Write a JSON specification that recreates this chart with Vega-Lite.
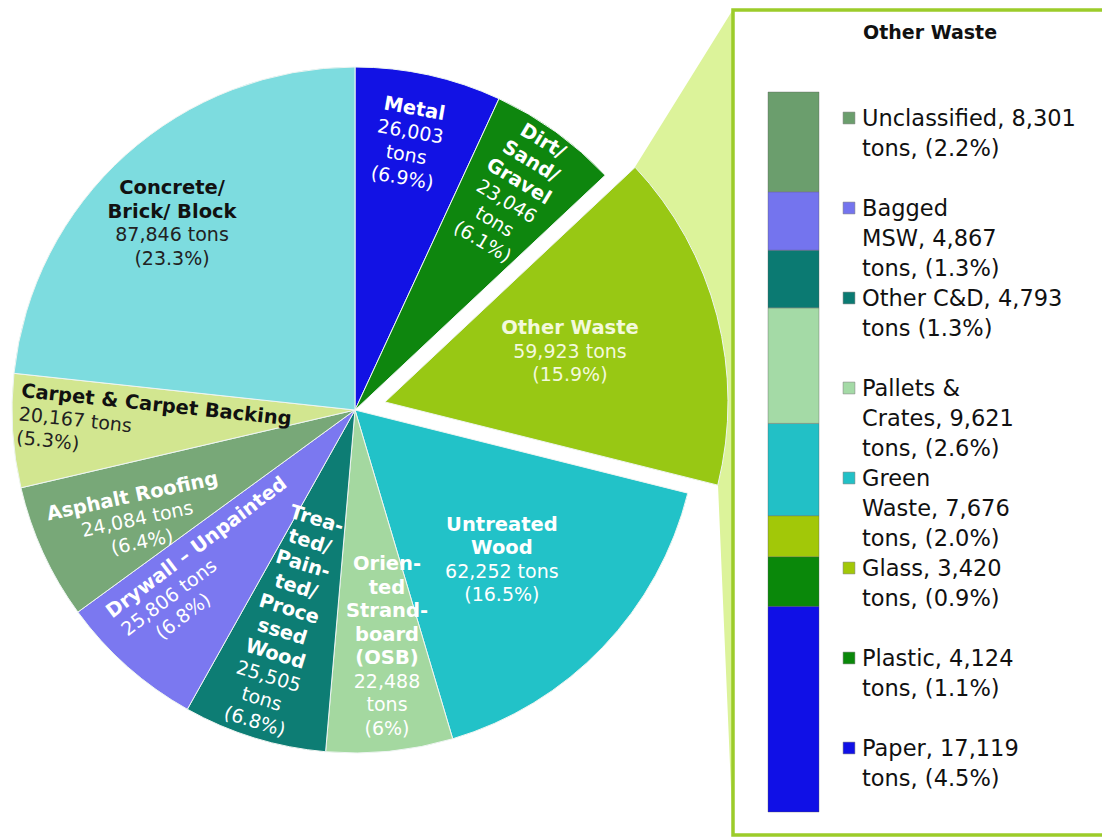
{
  "$schema": "https://vega.github.io/schema/vega-lite/v6.json",
  "padding": {"left": 0, "top": 8, "right": 0, "bottom": 0},
  "background": "white",
  "bounds": "flush",
  "spacing": 23,
  "datasets": {
    "pie": [
      {"category": "Metal", "rank": 1, "tons": 26003, "name": "Metal", "value": "26,003\ntons\n(6.9%)"},
      {"category": "Dirt/Sand/Gravel", "rank": 2, "tons": 23046, "name": "Dirt/\nSand/\nGravel", "value": "23,046\ntons\n(6.1%)"},
      {"category": "Other Waste", "rank": 3, "tons": 59923, "name": "Other Waste", "value": "59,923 tons\n(15.9%)"},
      {"category": "Untreated Wood", "rank": 4, "tons": 62252, "name": "Untreated\nWood", "value": "62,252 tons\n(16.5%)"},
      {"category": "Oriented Strandboard (OSB)", "rank": 5, "tons": 22488, "name": "Orien-\nted\nStrand-\nboard\n(OSB)", "value": "22,488\ntons\n(6%)"},
      {"category": "Treated/Painted/Processed Wood", "rank": 6, "tons": 25505, "name": "Trea-\nted/\nPain-\nted/\nProce\nssed\nWood", "value": "25,505\ntons\n(6.8%)"},
      {"category": "Drywall – Unpainted", "rank": 7, "tons": 25806, "name": "Drywall – Unpainted", "value": "25,806 tons\n(6.8%)"},
      {"category": "Asphalt Roofing", "rank": 8, "tons": 24084, "name": "Asphalt Roofing", "value": "24,084 tons\n(6.4%)"},
      {"category": "Carpet & Carpet Backing", "rank": 9, "tons": 20167, "name": "Carpet & Carpet Backing", "value": "20,167 tons\n(5.3%)"},
      {"category": "Concrete/Brick/Block", "rank": 10, "tons": 87846, "name": "Concrete/\nBrick/ Block", "value": "87,846 tons\n(23.3%)"}
    ],
    "other": [
      {"category": "Paper", "rank": 1, "tons": 17119, "group": "Other Waste", "label": "Paper, 17,119\ntons, (4.5%)"},
      {"category": "Plastic", "rank": 2, "tons": 4124, "group": "Other Waste", "label": "Plastic, 4,124\ntons, (1.1%)"},
      {"category": "Glass", "rank": 3, "tons": 3420, "group": "Other Waste", "label": "Glass, 3,420\ntons, (0.9%)"},
      {"category": "Green Waste", "rank": 4, "tons": 7676, "group": "Other Waste", "label": "Green\nWaste, 7,676\ntons, (2.0%)"},
      {"category": "Pallets & Crates", "rank": 5, "tons": 9621, "group": "Other Waste", "label": "Pallets &\nCrates, 9,621\ntons, (2.6%)"},
      {"category": "Other C&D", "rank": 6, "tons": 4793, "group": "Other Waste", "label": "Other C&D, 4,793\ntons (1.3%)"},
      {"category": "Bagged MSW", "rank": 7, "tons": 4867, "group": "Other Waste", "label": "Bagged\nMSW, 4,867\ntons, (1.3%)"},
      {"category": "Unclassified", "rank": 8, "tons": 8301, "group": "Other Waste", "label": "Unclassified, 8,301\ntons, (2.2%)"}
    ]
  },
  "hconcat": [
    {
      "width": 710,
      "height": 800,
      "data": {"name": "pie"},
      "layer": [
        {
          "data": {"values": [{"part": "connector"}]},
          "mark": {"type": "point", "shape": "M0.56,-0.486L0.756,-0.801L0.756,0.85L0.726,0.15Z", "size": 1000000, "filled": true, "fill": "#dcf39a", "opacity": 1, "strokeWidth": 0},
          "encoding": {}
        },
        {
          "mark": {
            "type": "arc",
            "outerRadius": 343,
            "stroke": "#eef5f2",
            "strokeWidth": 1,
            "xOffset": {"expr": "datum.rank === 3 ? 30 : 0"},
            "yOffset": {"expr": "datum.rank === 3 ? -8 : 0"}
          },
          "encoding": {
            "theta": {"field": "tons", "type": "quantitative", "stack": true},
            "order": {"field": "rank", "type": "quantitative"},
            "color": {
              "field": "category",
              "type": "nominal",
              "scale": {
                "domain": ["Metal", "Dirt/Sand/Gravel", "Other Waste", "Untreated Wood", "Oriented Strandboard (OSB)", "Treated/Painted/Processed Wood", "Drywall – Unpainted", "Asphalt Roofing", "Carpet & Carpet Backing", "Concrete/Brick/Block"],
                "range": ["#1212e4", "#0e860e", "#98c814", "#22c2c8", "#a4d8a0", "#0d7d74", "#7b78f0", "#78a878", "#d2e690", "#7ddcdf"]
              },
              "legend": null
            }
          }
        },
        {
          "mark": {
            "type": "text",
            "font": "DejaVu Sans",
            "fontWeight": "bold",
            "fontSize": 19.5,
            "lineBreak": "\n",
            "lineHeight": 23.5,
            "baseline": "bottom",
            "dy": {"expr": "-2 - 23.5 * (length(split(datum.name, '\\n')) - 1)"},
            "radius": {"expr": "[0,295,269,195,210,262,269,211,241,335,261][datum.rank]"},
            "thetaOffset": {"expr": "[0,-0.021,0,-0.068,0.033,-0.021,0.016,0.073,0.010,0.082,-0.045][datum.rank]"},
            "angle": {"expr": "[0,10,31,0,0,0,17,-37,-12,6,0][datum.rank]"},
            "align": {"expr": "datum.rank === 9 ? 'left' : 'center'"},
            "xOffset": {"expr": "datum.rank === 3 ? 30 : 0"},
            "yOffset": {"expr": "datum.rank === 3 ? -8 : 0"},
            "fill": {"expr": "datum.rank >= 9 ? '#111111' : (datum.rank === 3 ? '#f3f9dc' : '#ffffff')"}
          },
          "encoding": {
            "theta": {"field": "tons", "type": "quantitative", "stack": true},
            "order": {"field": "rank", "type": "quantitative"},
            "detail": {"field": "category", "type": "nominal"},
            "text": {"field": "name", "type": "nominal"}
          }
        },
        {
          "mark": {
            "type": "text",
            "font": "DejaVu Sans",
            "fontSize": 19,
            "lineBreak": "\n",
            "lineHeight": 23.5,
            "baseline": "top",
            "dy": 2.5,
            "dx": {"expr": "datum.rank === 7 ? -52 : 0"},
            "radius": {"expr": "[0,295,269,195,210,262,269,211,241,335,261][datum.rank]"},
            "thetaOffset": {"expr": "[0,-0.021,0,-0.068,0.033,-0.021,0.016,0.073,0.010,0.082,-0.045][datum.rank]"},
            "angle": {"expr": "[0,10,31,0,0,0,17,-37,-12,6,0][datum.rank]"},
            "align": {"expr": "datum.rank === 9 ? 'left' : 'center'"},
            "xOffset": {"expr": "datum.rank === 3 ? 30 : 0"},
            "yOffset": {"expr": "datum.rank === 3 ? -8 : 0"},
            "fill": {"expr": "datum.rank >= 9 ? '#222222' : (datum.rank === 3 ? '#f3f9dc' : '#ffffff')"}
          },
          "encoding": {
            "theta": {"field": "tons", "type": "quantitative", "stack": true},
            "order": {"field": "rank", "type": "quantitative"},
            "detail": {"field": "category", "type": "nominal"},
            "text": {"field": "value", "type": "nominal"}
          }
        }
      ]
    },
    {
      "width": 394,
      "height": 825,
      "view": {"stroke": "#9ccc2a", "strokeWidth": 3.5, "fill": "white"},
      "title": {"text": "Other Waste", "offset": -33, "anchor": "middle", "frame": "group", "font": "DejaVu Sans", "fontSize": 19, "fontWeight": "bold", "color": "#111111"},
      "data": {"name": "other"},
      "resolve": {"scale": {"y": "independent"}},
      "layer": [
        {
          "mark": {"type": "bar", "stroke": "#555555", "strokeWidth": 0.6, "strokeOpacity": 0.6},
          "encoding": {
            "x": {"field": "group", "type": "nominal", "scale": {"range": [35, 86], "paddingInner": 0, "paddingOuter": 0}, "axis": null},
            "y": {"field": "tons", "type": "quantitative", "stack": "zero", "scale": {"range": [802, 82], "nice": false, "zero": true}, "axis": null},
            "order": {"field": "rank", "type": "quantitative"},
            "color": {
              "field": "category",
              "type": "nominal",
              "scale": {
                "domain": ["Paper", "Plastic", "Glass", "Green Waste", "Pallets & Crates", "Other C&D", "Bagged MSW", "Unclassified"],
                "range": ["#1010e6", "#0a880a", "#a2c808", "#22c0c6", "#a4daa6", "#0b7a72", "#7474ee", "#6b9e6d"]
              },
              "legend": null
            }
          }
        },
        {
          "mark": {"type": "point", "shape": "square", "size": 140, "filled": true, "opacity": 1, "stroke": "#777777", "strokeWidth": 0.5, "xOffset": 30},
          "encoding": {
            "x": {"field": "group", "type": "nominal", "bandPosition": 1, "axis": null},
            "y": {"field": "category", "type": "nominal", "sort": ["Unclassified", "Bagged MSW", "Other C&D", "Pallets & Crates", "Green Waste", "Glass", "Plastic", "Paper"], "scale": {"type": "point", "range": [108, 738], "padding": 0}, "axis": null},
            "color": {"field": "category", "type": "nominal", "legend": null}
          }
        },
        {
          "mark": {"type": "text", "align": "left", "baseline": "alphabetic", "dy": 8, "font": "DejaVu Sans", "fontSize": 22.5, "lineBreak": "\n", "lineHeight": 30, "fill": "#111111", "xOffset": 43},
          "encoding": {
            "x": {"field": "group", "type": "nominal", "bandPosition": 1, "axis": null},
            "y": {"field": "category", "type": "nominal", "sort": ["Unclassified", "Bagged MSW", "Other C&D", "Pallets & Crates", "Green Waste", "Glass", "Plastic", "Paper"], "scale": {"type": "point", "range": [108, 738], "padding": 0}, "axis": null},
            "text": {"field": "label", "type": "nominal"}
          }
        }
      ]
    }
  ],
  "resolve": {"scale": {"color": "independent"}},
  "config": {"view": {"stroke": null}, "font": "DejaVu Sans"}
}
